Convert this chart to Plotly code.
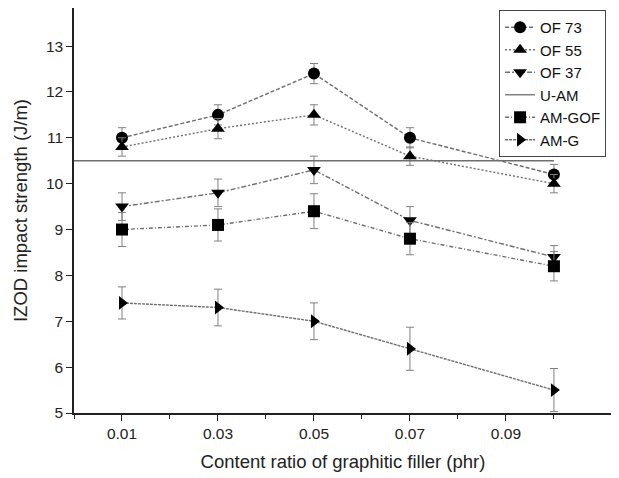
import plotly.graph_objects as go

x = [0.01, 0.03, 0.05, 0.07, 0.10]
of73 = [11.0, 11.5, 12.4, 11.0, 10.2]
of73_err = [0.22, 0.22, 0.22, 0.22, 0.22]
of55 = [10.8, 11.2, 11.5, 10.6, 10.0]
of55_err = [0.2, 0.22, 0.22, 0.2, 0.2]
of37 = [9.5, 9.8, 10.3, 9.2, 8.4]
of37_err = [0.3, 0.3, 0.3, 0.3, 0.25]
uam_x = [0.0, 0.10]
uam = [10.5, 10.5]
amgof = [9.0, 9.1, 9.4, 8.8, 8.2]
amgof_err = [0.37, 0.35, 0.38, 0.35, 0.32]
amg = [7.4, 7.3, 7.0, 6.4, 5.5]
amg_err = [0.35, 0.4, 0.4, 0.47, 0.47]

LINE = "#6e6e6e"
ERR = "#808080"

def series(name, y, err, symbol, dash):
    return go.Scatter(
        x=x, y=y, name=name, mode="lines+markers",
        line=dict(color=LINE, width=1.4, dash=dash),
        marker=dict(symbol=symbol, size=12, color="black"),
        error_y=dict(type="data", array=err, visible=True, color=ERR, thickness=1, width=4),
    )

fig = go.Figure()
fig.add_trace(series("OF 73", of73, of73_err, "circle", "4px,2px"))
fig.add_trace(series("OF 55", of55, of55_err, "triangle-up", "2px,2px"))
fig.add_trace(series("OF 37", of37, of37_err, "triangle-down", "5px,2px,2px,2px"))
fig.add_trace(go.Scatter(x=uam_x, y=uam, name="U-AM", mode="lines",
                         line=dict(color=LINE, width=1.3)))
fig.add_trace(series("AM-GOF", amgof, amgof_err, "square", "4px,2px,1px,2px"))
fig.add_trace(series("AM-G", amg, amg_err, "triangle-right", "3px,1px"))

font = "Liberation Sans, Arial, sans-serif"
fig.update_layout(
    width=619, height=478,
    margin=dict(l=66, r=15, t=0, b=73, autoexpand=False),
    plot_bgcolor="white", paper_bgcolor="white",
    font=dict(family=font, size=15, color="#222"),
    showlegend=True,
    legend=dict(x=0.989, y=0.995, xanchor="right", yanchor="top",
                bordercolor="#444", borderwidth=1, bgcolor="white",
                font=dict(size=15, color="#111"), tracegroupgap=0,
                itemsizing="trace", itemwidth=30),
    xaxis=dict(
        range=[0.0, 0.1121], tickvals=[0.01, 0.03, 0.05, 0.07, 0.09],
        ticktext=["0.01", "0.03", "0.05", "0.07", "0.09"], automargin=False,
        showgrid=False, zeroline=False, showline=True, linecolor="#222", linewidth=1.5,
        mirror=True, ticks="outside", ticklen=6, tickcolor="#222", tickwidth=1.3,
        minor=dict(tickvals=[0.0, 0.02, 0.04, 0.06, 0.08, 0.10], ticks="outside", ticklen=4,
                   tickcolor="#222", tickwidth=1.3),
        title=dict(text="Content ratio of graphitic filler (phr)", font=dict(size=18.5), standoff=14),
        tickfont=dict(size=15.5),
    ),
    yaxis=dict(
        range=[5, 13.83], tickvals=[5, 6, 7, 8, 9, 10, 11, 12, 13], automargin=False,
        showgrid=False, zeroline=False, showline=True, linecolor="#222", linewidth=1.5,
        mirror=True, ticks="outside", ticklen=6, tickcolor="#222", tickwidth=1.3,
        title=dict(text="IZOD impact strength (J/m)", font=dict(size=18.5), standoff=13),
        tickfont=dict(size=15.5),
    ),
)

fig.write_html("out.html")
